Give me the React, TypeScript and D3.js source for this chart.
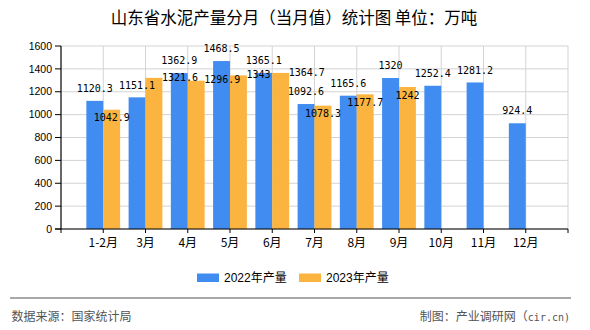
import React, { useEffect } from 'react';
import * as d3 from 'd3';

const categories = ['1-2月', '3月', '4月', '5月', '6月', '7月', '8月', '9月', '10月', '11月', '12月'];
const values2022 = [1120.3, 1151.1, 1362.9, 1468.5, 1365.1, 1092.6, 1165.6, 1320, 1252.4, 1281.2, 924.4];
const values2023 = [1042.9, 1321.6, 1296.9, 1343, 1364.7, 1078.3, 1177.7, 1242];
const yTicks = [0, 200, 400, 600, 800, 1000, 1200, 1400, 1600];
const seriesNames = ['2022年产量', '2023年产量'];
// label layout for the 2023 series (style, not data)
const label2023Side = ['inside', 'right', 'right', 'right', 'right', 'inside', 'inside', 'inside'];

const W = 590;
const H = 330;
const BLUE = '#418CF0';
const ORANGE = '#FCB441';
const GRID = '#d3d3d3';
const CJK = '"Noto Sans CJK SC", "Liberation Sans", sans-serif';
const MONO = '"DejaVu Sans Mono", "Liberation Mono", monospace';
const LEGEND_FONT = '"Liberation Sans", "Noto Sans CJK SC", sans-serif';

export default function App() {
  useEffect(() => {
    document.body.style.margin = '0';
  }, []);

  const left = 61;
  const right = 568;
  const top = 46;
  const bottom = 229;

  const x = d3.scaleLinear().domain([0, categories.length + 1]).range([left, right]);
  const y = d3.scaleLinear().domain([0, 1600]).range([bottom, top]);
  const step = x(1) - x(0);
  const bw = step * 0.4;
  const kTicks = d3.range(0, categories.length + 2);

  return (
    <svg width={W} height={H} style={{ display: 'block', position: 'absolute', left: 0, top: 0, background: '#fff' }}>
      <rect x={0} y={0} width={W} height={H} fill="#fff" />
      <text x={294} y={24} textAnchor="middle" fontFamily={CJK} fontSize={16.5} fill="#000">
        山东省水泥产量分月（当月值）统计图 单位：万吨
      </text>

      {/* grid */}
      {yTicks.map((t) => (
        <line key={'gy' + t} x1={left} x2={right} y1={y(t)} y2={y(t)} stroke={GRID} strokeWidth={1} />
      ))}
      {kTicks.slice(1).map((k) => (
        <line key={'gx' + k} x1={x(k)} x2={x(k)} y1={top} y2={bottom} stroke={GRID} strokeWidth={1} />
      ))}

      {/* bars */}
      {values2022.map((v, i) => (
        <rect key={'b1' + i} x={x(i + 1) - bw} y={y(v)} width={bw} height={bottom - y(v)} fill={BLUE} />
      ))}
      {values2023.map((v, i) => (
        <rect key={'b2' + i} x={x(i + 1)} y={y(v)} width={bw} height={bottom - y(v)} fill={ORANGE} />
      ))}

      {/* axes */}
      <line x1={left} x2={left} y1={top} y2={bottom} stroke="#000" strokeWidth={1.2} />
      <line x1={left - 6} x2={right} y1={bottom} y2={bottom} stroke="#000" strokeWidth={1.2} />
      {yTicks.map((t) => (
        <g key={'ty' + t}>
          <line x1={left - 6} x2={left} y1={y(t)} y2={y(t)} stroke="#000" strokeWidth={1} />
          <text x={52} y={y(t) + 3.7} textAnchor="end" fontFamily='"Liberation Sans", Arial, sans-serif' fontSize={10.5} fill="#000">
            {t}
          </text>
        </g>
      ))}
      {kTicks.map((k) => (
        <line key={'tx' + k} x1={x(k)} x2={x(k)} y1={bottom} y2={bottom + 4} stroke="#000" strokeWidth={1} />
      ))}
      {categories.map((c, i) => (
        <text key={'cx' + i} x={x(i + 1)} y={246.5} textAnchor="middle" fontFamily={CJK} fontSize={12} fill="#000">
          {c}
        </text>
      ))}

      {/* value labels */}
      {values2022.map((v, i) => (
        <text key={'l1' + i} x={x(i + 1) - bw / 2} y={y(v) - 12.5 + 3.7} textAnchor="middle" fontFamily={MONO} fontSize={10} fill="#000">
          {String(v)}
        </text>
      ))}
      {values2023.map((v, i) => {
        const side = label2023Side[i];
        if (side === 'right') {
          return (
            <text key={'l2' + i} x={x(i + 1) + bw - 0.5} y={y(v) - 1 + 3.7} textAnchor="start" fontFamily={MONO} fontSize={10} fill="#000">
              {String(v)}
            </text>
          );
        }
        return (
          <text key={'l2' + i} x={x(i + 1) + bw / 2} y={y(v) + 8 + 3.7} textAnchor="middle" fontFamily={MONO} fontSize={10} fill="#000">
            {String(v)}
          </text>
        );
      })}

      {/* legend */}
      <rect x={197} y={273.5} width={22} height={8.5} fill={BLUE} />
      <text x={224} y={282} fontFamily={LEGEND_FONT} fontSize={12} fill="#000">{seriesNames[0]}</text>
      <rect x={299} y={273.5} width={22} height={8.5} fill={ORANGE} />
      <text x={326} y={282} fontFamily={LEGEND_FONT} fontSize={12} fill="#000">{seriesNames[1]}</text>

      {/* footer */}
      <line x1={10} x2={571} y1={298} y2={298} stroke="#8c8c8c" strokeWidth={1.5} />
      <text x={11.5} y={320.5} fontFamily={CJK} fontSize={12} fill="#555">数据来源：国家统计局</text>
      <text x={570} y={320.5} textAnchor="end" fill="#555">
        <tspan fontFamily={CJK} fontSize={12}>制图：产业调研网（</tspan>
        <tspan fontFamily={MONO} fontSize={10}>cir.cn)</tspan>
      </text>
    </svg>
  );
}
